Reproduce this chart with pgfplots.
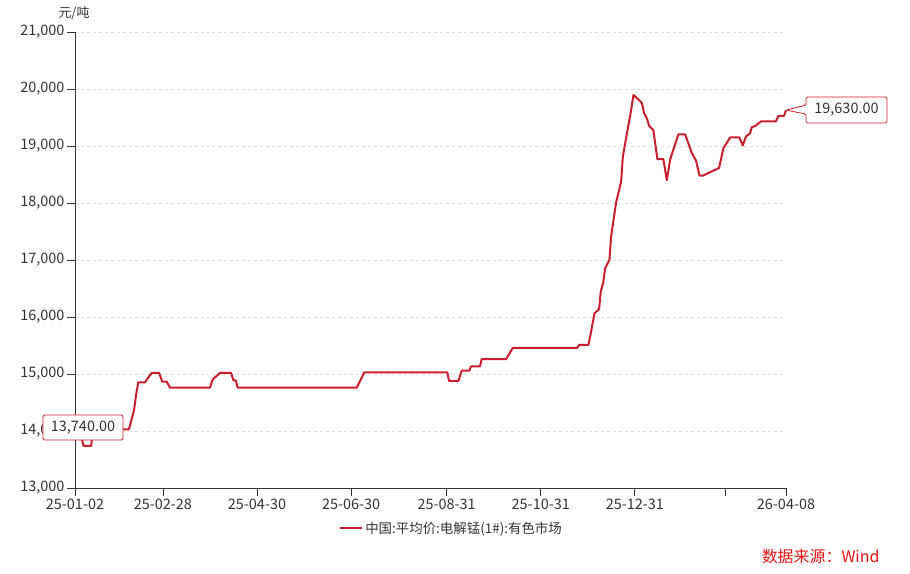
\documentclass[border=0pt]{standalone}
\usepackage{fontspec}
\setmainfont{Noto Sans CJK SC}
\usepackage{pgfplots}
\usepackage{pgfplotstable}
\pgfplotsset{compat=1.18}

\definecolor{mnred}{RGB}{200,30,45}
\definecolor{txtgray}{RGB}{51,51,51}
\definecolor{gridgray}{RGB}{222,222,222}
\definecolor{srcred}{RGB}{230,20,20}

% day = days since 2025-01-02, price in yuan/ton
\pgfplotstableread{
day price
0 14030
3 14030
5.5 13740
10.5 13740
11.5 14030
35 14030
38.3 14370
39.6 14630
41 14855
45.4 14855
49.7 15020
54.5 15020
56.6 14865
59.5 14865
61.6 14760
87.5 14760
89.3 14905
94 15020
101.2 15020
102.7 14890
104.2 14890
105.5 14760
182.7 14760
187.6 15030
241.4 15030
242.5 14880
248.6 14880
250.8 15060
255.7 15060
256.8 15135
262.6 15135
263.7 15260
279.5 15260
283.9 15460
325.7 15460
326.9 15510
332.9 15510
334.4 15710
336.8 16065
339.8 16135
340.9 16445
342.6 16620
343.7 16855
346.5 17000
347.6 17410
350.8 18005
354.1 18375
355.2 18810
356.7 19045
360.4 19600
362.1 19895
367.5 19760
369 19575
370.8 19485
372.2 19355
375 19280
377.6 18770
381.5 18770
383.7 18400
385.9 18765
391.2 19205
395.6 19205
399.9 18880
402.7 18740
404.9 18480
407.1 18480
417.6 18615
420.4 18960
424.8 19150
430.8 19150
433 19010
435.1 19170
437.7 19220
438.8 19330
441 19350
444.7 19430
454.4 19430
456.1 19530
459.8 19530
461 19630
}\mndata

\begin{document}
\begin{tikzpicture}
\path[use as bounding box] (-75bp,-86bp) rectangle (835bp,488bp);
\begin{axis}[
    scale only axis,
    width=711bp, height=456bp,
    xmin=0, xmax=461,
    ymin=13000, ymax=21000,
    axis lines*=left,
    axis line style={txtgray, line width=0.8bp},
    clip=false,
    scaled ticks=false,
    xtick={0,57,118,179,241,302,363,422,461},
    xticklabels={25-01-02,25-02-28,25-04-30,25-06-30,25-08-31,25-10-31,25-12-31,,26-04-08},
    ytick={13000,14000,...,21000},
    tick align=outside,
    major tick length=8bp,
    tick style={txtgray, line width=0.8bp},
    ymajorgrids,
    grid style={gridgray, dashed, line width=0.7bp},
    ticklabel style={font=\fontsize{14.5}{14.5}\selectfont, text=txtgray},
    xticklabel style={yshift=1bp},
    yticklabel style={xshift=1bp},
    /pgf/number format/.cd, fixed, 1000 sep={,}, assume math mode=true,
    /pgfplots/.cd,
    legend style={at={(0.5295,-0.088)}, anchor=center, draw=none, fill=none,
        font=\fontsize{13.5}{13.5}\selectfont, text=txtgray},
    legend image code/.code={\draw[#1, line width=2.2bp] (0bp,0bp) -- (22bp,0bp);},
]
\addplot[mnred, line width=2bp, line join=round] table[x=day, y=price] {\mndata};
\addlegendentry{中国:平均价:电解锰(1\#):有色市场}
\coordinate (tip) at (axis cs:461,19630);
\end{axis}

% end-value callout
\draw[mnred, fill=white, line width=0.8bp, rounded corners=1.5bp]
    (tip) -- ([shift={(20bp,5bp)}]tip) -- ([shift={(20bp,13bp)}]tip)
    -- ([shift={(101bp,13bp)}]tip) -- ([shift={(101bp,-13bp)}]tip)
    -- ([shift={(20bp,-13bp)}]tip) -- ([shift={(20bp,-4bp)}]tip) -- cycle;
\node[text=txtgray, font=\fontsize{14.5}{14.5}\selectfont] at ([shift={(60.5bp,0bp)}]tip) {19,630.00};

% start-value label
\draw[mnred, fill=white, line width=0.8bp, rounded corners=1.5bp] (-32bp,48bp) rectangle (48bp,73bp);
\node[text=txtgray, font=\fontsize{14.5}{14.5}\selectfont] at (8bp,60.5bp) {13,740.00};

\node[text=txtgray, font=\fontsize{13}{13}\selectfont] at (-1bp,475bp) {元/吨};
\node[text=srcred, font=\fontsize{16}{16}\selectfont, anchor=east] at (808bp,-68bp) {数据来源：Wind};
\end{tikzpicture}
\end{document}
